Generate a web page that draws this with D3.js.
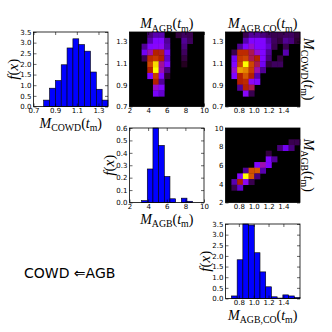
<!DOCTYPE html>
<html><head><meta charset="utf-8">
<script src="https://cdn.jsdelivr.net/npm/d3@7"></script>
<style>body{margin:0;background:#fff} svg{display:block}</style>
</head><body>
<svg id="c" width="332" height="332"></svg>
<script>
// ---------- data ----------
const cowdEdges  = [0.794,0.848,0.902,0.956,1.010,1.064,1.118,1.172,1.226,1.280,1.334,1.388];
const agbEdges   = [3.300,3.909,4.518,5.127,5.736,6.345,6.955,7.564,8.173,8.782,9.391,10.0];
const agbcoEdges = [0.700,0.777,0.854,0.931,1.008,1.085,1.162,1.239,1.316,1.393,1.470,1.547,1.624];

const cowdDensity  = [0.30,0.86,1.22,1.96,2.75,3.18,2.91,2.60,1.62,0.81,0.30];
const agbDensity   = [0.015,0.27,0.60,0.46,0.21,0.03,0,0.035,0.01,0,0];
const agbcoDensity = [0.12,1.82,3.50,3.45,2.15,1.25,0.55,0.08,0.02,0.17,0.12,0.05];

const cowdDomain  = [0.7, 1.388];
const agbDomain   = [2, 10];
const agbcoDomain = [0.62, 1.624];

const cowdTicks  = [0.7,0.9,1.1,1.3];
const agbTicks   = [2,4,6,8,10];
const agbcoTicks = [0.8,1.0,1.2,1.4];
const densTicks35 = [0,0.5,1.0,1.5,2.0,2.5,3.0,3.5];
const densTicks06 = [0,0.1,0.2,0.3,0.4,0.5,0.6];

// heat maps: rows listed from the top (highest y bin) down
const heatCowdAgb = [ // rows: COWD bins, cols: AGB bins
 [0,0.08,0.12,0.12,0,0,0.04,0.06,0.05,0,0],
 [0,0.12,0.25,0.25,0.10,0,0,0.10,0.06,0,0],
 [0.10,0.25,0.28,0.30,0.12,0,0,0.08,0,0,0],
 [0.20,0.38,0.50,0.48,0.22,0,0,0.06,0,0,0],
 [0.05,0.55,0.60,0.50,0.15,0,0,0.04,0,0,0],
 [0,0.65,0.95,0.40,0.25,0,0,0.02,0,0,0],
 [0,0.50,1.00,0.38,0.08,0,0,0,0,0,0],
 [0,0.25,0.62,0.25,0.03,0,0,0,0,0,0],
 [0,0,0.50,0.10,0,0,0,0,0,0,0],
 [0,0,0.35,0.25,0,0,0,0,0,0,0],
 [0,0,0.22,0.15,0,0,0,0,0,0,0]
];
const heatCowdAgbco = [ // rows: COWD bins, cols: AGB,CO bins
 [0,0,0.05,0.10,0.10,0.08,0.06,0.05,0.05,0.06,0.06,0.04],
 [0,0,0.12,0.25,0.25,0.25,0.12,0.06,0.04,0.10,0.08,0.03],
 [0,0.10,0.25,0.35,0.25,0.25,0.15,0.05,0,0.05,0,0],
 [0.05,0.55,0.55,0.45,0.35,0.25,0.10,0,0,0.12,0,0],
 [0.20,0.60,0.65,0.45,0.50,0.25,0.08,0,0.04,0,0,0],
 [0.25,0.65,1.00,0.65,0.45,0.20,0.04,0.06,0.06,0,0,0],
 [0.35,0.85,0.80,0.62,0.38,0.10,0,0,0,0,0,0],
 [0.25,0.50,0.70,0.50,0.12,0,0,0,0,0,0,0],
 [0,0.50,0.55,0.30,0.25,0,0,0,0,0,0,0],
 [0,0.10,0.50,0.45,0,0,0,0,0,0,0,0],
 [0,0,0.28,0.05,0,0,0,0,0,0,0,0]
];
const heatAgbAgbco = [ // rows: AGB bins, cols: AGB,CO bins
 [0,0,0,0,0,0,0,0,0,0,0,0],
 [0,0,0,0,0,0,0,0,0,0,0,0],
 [0,0,0,0,0,0,0,0,0,0,0.05,0.05],
 [0,0,0,0,0,0,0,0,0.08,0.20,0.08,0],
 [0,0,0,0,0,0,0.04,0,0,0,0,0],
 [0,0,0,0,0,0,0.25,0.10,0,0,0,0],
 [0,0,0,0,0.25,0.38,0.25,0,0,0,0,0],
 [0,0,0.10,0.68,0.70,0.12,0,0,0,0,0,0],
 [0,0.28,1.00,0.70,0.08,0,0,0,0,0,0,0],
 [0.12,0.50,0.30,0.05,0,0,0,0,0,0,0,0],
 [0.05,0.15,0,0,0,0,0,0,0,0,0,0]
];

// ---------- layout ----------
const svg = d3.select("#c");
const SIZE = 74.5, LEFT0 = 33.5, TOP0 = 32, STEP = 96;
const TICKFONT = "DejaVu Sans, sans-serif";
const SERIF = "Liberation Serif, Times New Roman, serif";

function box(col,row){ return {x: LEFT0+STEP*col, y: TOP0+STEP*row, w: SIZE, h: SIZE}; }

// gnuplot colormap
function gnuplot(t){
  t = Math.max(0, Math.min(1, t));
  const r = Math.sqrt(t), g = t*t*t, b = Math.max(0, Math.sin(2*Math.PI*t));
  return d3.rgb(r*255, g*255, b*255).toString();
}
const color = d3.scaleSequential(gnuplot).domain([0,1]);

function fmt(v, dec){ return dec===0 ? d3.format("d")(v) : d3.format("."+dec+"f")(v); }

function drawAxes(b, xs, ys, xt, yt, xdec, ydec){
  const g = svg.append("g").attr("transform", `translate(${b.x},${b.y})`);
  const ax = [
    [d3.axisBottom(xs).tickValues(xt).tickFormat(d=>fmt(d,xdec)), `translate(0,${b.h})`, true],
    [d3.axisTop(xs).tickValues(xt).tickFormat(""), `translate(0,0)`, false],
    [d3.axisLeft(ys).tickValues(yt).tickFormat(d=>fmt(d,ydec)), `translate(0,0)`, true],
    [d3.axisRight(ys).tickValues(yt).tickFormat(""), `translate(${b.w},0)`, false]
  ];
  ax.forEach(([a,tr])=>{
    const s = g.append("g").attr("transform", tr)
      .call(a.tickSizeInner(-3).tickSizeOuter(0).tickPadding(2));
    s.select(".domain").remove();
    s.selectAll("line").attr("stroke","#000").attr("stroke-width",0.6);
    s.selectAll("text").attr("font-family",TICKFONT).attr("font-size",7).attr("fill","#000");
  });
  g.append("rect").attr("width",b.w).attr("height",b.h)
    .attr("fill","none").attr("stroke","#000").attr("stroke-width",0.8);
  return g;
}

function mlabel(sub, fs){
  const t = svg.append("text").attr("font-family",SERIF).attr("font-size",fs)
    .attr("text-anchor","middle").attr("fill","#000");
  const sh = fs*0.25;
  t.append("tspan").attr("font-style","italic").text("M");
  t.append("tspan").attr("font-size",fs*0.7).attr("dy",sh).text(sub);
  t.append("tspan").attr("dy",-sh).text("(");
  t.append("tspan").attr("font-style","italic").text("t");
  t.append("tspan").attr("font-size",fs*0.7).attr("dy",sh).text("m");
  t.append("tspan").attr("dy",-sh).text(")");
  return t;
}
function flabel(fs){
  const t = svg.append("text").attr("font-family",SERIF).attr("font-size",fs)
    .attr("text-anchor","middle").attr("fill","#000");
  t.append("tspan").attr("font-style","italic").text("f");
  t.append("tspan").text("(");
  t.append("tspan").attr("font-style","italic").text("x");
  t.append("tspan").text(")");
  return t;
}

function hist(b, edges, dens, xDomain, yMax, xt, yt, xdec, ydec, sub){
  const xs = d3.scaleLinear().domain(xDomain).range([0,b.w]);
  const ys = d3.scaleLinear().domain([0,yMax]).range([b.h,0]);
  const g = svg.append("g").attr("transform", `translate(${b.x},${b.y})`);
  g.selectAll("rect").data(dens).join("rect")
    .attr("x",(d,i)=>xs(edges[i])).attr("width",(d,i)=>xs(edges[i+1])-xs(edges[i]))
    .attr("y",d=>ys(d)).attr("height",d=>ys(0)-ys(d))
    .attr("fill","#0000ff").attr("stroke","#000").attr("stroke-width",0.6);
  drawAxes(b, xs, ys, xt, yt, xdec, ydec);
  mlabel(sub, 14).attr("x", b.x+b.w/2).attr("y", b.y+b.h+21);
  flabel(15).attr("transform", `translate(${b.x-16},${b.y+b.h/2}) rotate(-90)`);
}

function heat(b, xEdges, yEdges, grid, xDomain, yDomain, xt, yt, xdec, ydec){
  const xs = d3.scaleLinear().domain(xDomain).range([0,b.w]);
  const ys = d3.scaleLinear().domain(yDomain).range([b.h,0]);
  const g = svg.append("g").attr("transform", `translate(${b.x},${b.y})`);
  g.append("rect").attr("width",b.w).attr("height",b.h).attr("fill","#000");
  const n = grid.length;
  const cells = [];
  grid.forEach((row,i)=>row.forEach((v,j)=>{ if(v>0) cells.push({k:n-1-i, j, v}); }));
  g.selectAll("rect.cell").data(cells).join("rect").attr("class","cell")
    .attr("x",d=>xs(xEdges[d.j])).attr("width",d=>xs(xEdges[d.j+1])-xs(xEdges[d.j])+0.3)
    .attr("y",d=>ys(yEdges[d.k+1])).attr("height",d=>ys(yEdges[d.k])-ys(yEdges[d.k+1])+0.3)
    .attr("fill",d=>color(d.v));
  drawAxes(b, xs, ys, xt, yt, xdec, ydec);
}

// top-left histogram: COWD
hist(box(0,0), cowdEdges, cowdDensity, cowdDomain, 3.5, cowdTicks, densTicks35, 1, 1, "COWD");
// middle histogram: AGB
hist(box(1,1), agbEdges, agbDensity, agbDomain, 0.6, agbTicks, densTicks06, 0, 1, "AGB");
// bottom-right histogram: AGB,CO
hist(box(2,2), agbcoEdges, agbcoDensity, agbcoDomain, 3.5, agbcoTicks, densTicks35, 1, 1, "AGB,CO");

// heat maps
const bB = box(1,0), bC = box(2,0), bE = box(2,1);
heat(bB, agbEdges, cowdEdges, heatCowdAgb, agbDomain, cowdDomain, agbTicks, cowdTicks, 0, 1);
heat(bC, agbcoEdges, cowdEdges, heatCowdAgbco, agbcoDomain, cowdDomain, agbcoTicks, cowdTicks, 1, 1);
heat(bE, agbcoEdges, agbEdges, heatAgbAgbco, agbcoDomain, agbDomain, agbcoTicks, agbTicks, 1, 0);

// titles and right labels
mlabel("AGB", 14).attr("x", bB.x+bB.w/2).attr("y", bB.y-4);
mlabel("AGB,CO", 14).attr("x", bC.x+bC.w/2).attr("y", bC.y-4);
mlabel("COWD", 14).attr("transform", `translate(${bC.x+bC.w+4},${bC.y+bC.h/2}) rotate(90)`);
mlabel("AGB", 14).attr("transform", `translate(${bE.x+bE.w+4},${bE.y+bE.h/2}) rotate(90)`);

// relation text
svg.append("text").attr("x",24).attr("y",278).attr("font-family","DejaVu Sans, sans-serif")
  .attr("font-size",14).attr("fill","#000").text("COWD \u21D0AGB");
</script>
</body></html>
